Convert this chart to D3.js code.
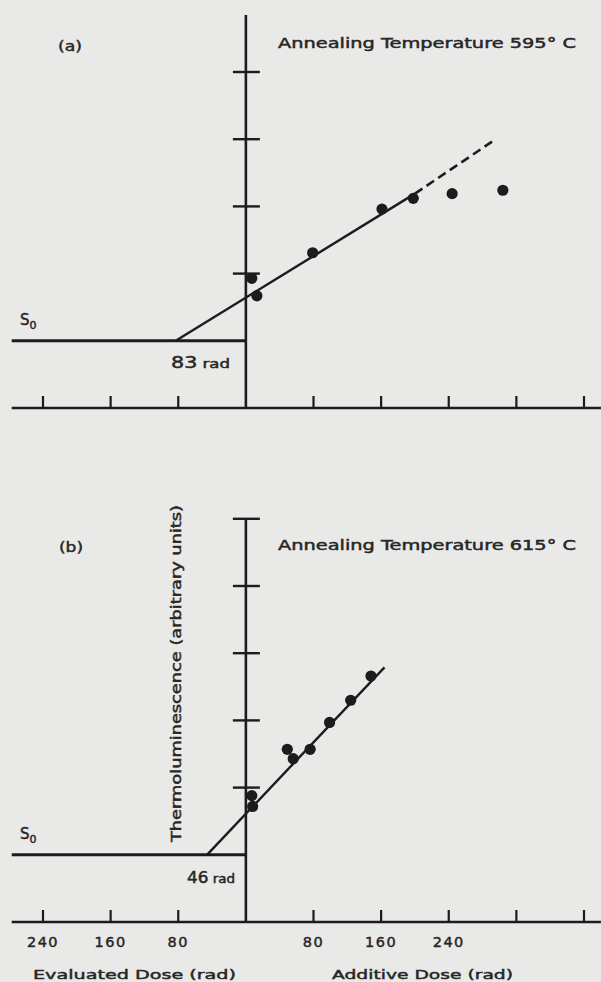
<!DOCTYPE html>
<html>
<head>
<meta charset="utf-8">
<script src="https://cdn.jsdelivr.net/npm/d3@7"></script>
<style>
  html, body { margin: 0; padding: 0; background: #e9e9e7; }
  svg { display: block; }
  text { font-family: "DejaVu Sans", "Liberation Sans", sans-serif; fill: #262626; stroke: #262626; stroke-width: 0.45px; }
</style>
</head>
<body>
<svg id="chart" width="601" height="982"></svg>
<script>
// ---------- data ----------
const xTickValues = [-240, -160, -80, 80, 160, 240, 320, 400];
const xTickLabelsLeft = [240, 160, 80];      // evaluated dose (shown to the left of 0)
const xTickLabelsRight = [80, 160, 240];     // additive dose

// Panel (a): annealing 595 °C
const aDose = [7, 13, 79, 161, 198, 244, 304];
const aTL   = [1.93, 1.67, 2.31, 2.96, 3.12, 3.19, 3.24];
const aFitSolid  = [[-83, 1], [200, 3.19]];
const aFitDashed = [[200, 3.19], [292, 3.97]];
const aS0 = 1;
const aEvaluated = 83;
const aYTicks = [2, 3, 4, 5];

// Panel (b): annealing 615 °C
const bDose = [7, 8, 49, 56, 76, 99, 124, 148];
const bTL   = [1.88, 1.72, 2.57, 2.43, 2.57, 2.97, 3.30, 3.66];
const bFit  = [[-46, 1], [164, 3.79]];
const bS0 = 1;
const bEvaluated = 46;
const bYTicks = [2, 3, 4, 5, 6];

// ---------- drawing ----------
const svg = d3.select("#chart");
const ink = "#1c1c1c";

const x = d3.scaleLinear().domain([-240, 400]).range([43, 584]);
const xMin = -277, xMax = 420;

function panel(cfg) {
  const y = d3.scaleLinear().domain([0, 6]).range([cfg.base, cfg.base - 6 * 67.2]);
  const g = svg.append("g");

  // x axis line
  g.append("line")
    .attr("x1", x(xMin)).attr("x2", x(xMax))
    .attr("y1", y(0)).attr("y2", y(0))
    .attr("stroke", ink).attr("stroke-width", 2.6);

  // x ticks (upward)
  g.selectAll(".xt").data(xTickValues).join("line")
    .attr("x1", d => x(d)).attr("x2", d => x(d))
    .attr("y1", y(0)).attr("y2", y(0) - 12)
    .attr("stroke", ink).attr("stroke-width", 2.2);

  // vertical axis
  g.append("line")
    .attr("x1", x(0)).attr("x2", x(0))
    .attr("y1", y(0)).attr("y2", y(cfg.yTop))
    .attr("stroke", ink).attr("stroke-width", 2.6);

  // y ticks (crossing)
  g.selectAll(".yt").data(cfg.yTicks).join("line")
    .attr("x1", x(0) - 13).attr("x2", x(0) + 14)
    .attr("y1", d => y(d)).attr("y2", d => y(d))
    .attr("stroke", ink).attr("stroke-width", 2.4);

  // S0 line
  g.append("line")
    .attr("x1", x(xMin)).attr("x2", x(0))
    .attr("y1", y(cfg.s0)).attr("y2", y(cfg.s0))
    .attr("stroke", ink).attr("stroke-width", 3);

  const line = d3.line().x(d => x(d[0])).y(d => y(d[1]));
  g.append("path").attr("d", line(cfg.fitSolid))
    .attr("fill", "none").attr("stroke", ink).attr("stroke-width", 2.4);
  if (cfg.fitDashed) {
    g.append("path").attr("d", line(cfg.fitDashed))
      .attr("fill", "none").attr("stroke", ink).attr("stroke-width", 2.6)
      .attr("stroke-dasharray", "9,5");
  }

  // points
  g.selectAll(".pt").data(cfg.dose.map((d, i) => [d, cfg.tl[i]])).join("circle")
    .attr("cx", d => x(d[0])).attr("cy", d => y(d[1]))
    .attr("r", 5.6).attr("fill", ink);

  // labels
  g.append("text").attr("x", cfg.tagX).attr("y", cfg.tagY)
    .attr("font-size", 14)
    .attr("textLength", 24).attr("lengthAdjust", "spacingAndGlyphs")
    .text(cfg.tag);
  g.append("text").attr("x", 278).attr("y", cfg.titleY)
    .attr("font-size", 13.5)
    .attr("textLength", 298).attr("lengthAdjust", "spacingAndGlyphs")
    .text(cfg.title);

  const s = g.append("text").attr("x", 20).attr("y", cfg.s0Y).attr("font-size", 15);
  s.append("tspan").text("S");
  s.append("tspan").attr("font-size", 11).attr("dy", 4).text("0");

  const r = g.append("text").attr("x", cfg.radX).attr("y", cfg.radY)
    .attr("textLength", cfg.radW).attr("lengthAdjust", "spacingAndGlyphs");
  r.append("tspan").attr("font-size", 15).text(cfg.evaluated);
  r.append("tspan").attr("font-size", 12).text(" rad");

  return y;
}

panel({
  base: 408, yTop: 5.85, yTicks: aYTicks, s0: aS0,
  fitSolid: aFitSolid, fitDashed: aFitDashed,
  dose: aDose, tl: aTL,
  tag: "(a)", tagX: 58, tagY: 51,
  title: "Annealing Temperature 595\u00b0 C", titleY: 48,
  s0Y: 325, evaluated: aEvaluated, radX: 171, radY: 368, radW: 59
});

panel({
  base: 922, yTop: 6.0, yTicks: bYTicks, s0: bS0,
  fitSolid: bFit, fitDashed: null,
  dose: bDose, tl: bTL,
  tag: "(b)", tagX: 59, tagY: 552,
  title: "Annealing Temperature 615\u00b0 C", titleY: 550,
  s0Y: 839, evaluated: bEvaluated, radX: 187, radY: 883, radW: 48
});

// bottom tick labels
svg.selectAll(".lbl-l").data(xTickLabelsLeft).join("text")
  .attr("x", d => x(-d)).attr("y", 947)
  .attr("text-anchor", "middle").attr("font-size", 14.5)
  .attr("letter-spacing", 1.5).text(d => d);
svg.selectAll(".lbl-r").data(xTickLabelsRight).join("text")
  .attr("x", d => x(d)).attr("y", 947)
  .attr("text-anchor", "middle").attr("font-size", 14.5)
  .attr("letter-spacing", 1.5).text(d => d);

svg.append("text").attr("x", 33).attr("y", 979).attr("font-size", 13)
  .attr("textLength", 203).attr("lengthAdjust", "spacingAndGlyphs")
  .text("Evaluated Dose (rad)");
svg.append("text").attr("x", 332).attr("y", 979).attr("font-size", 13)
  .attr("textLength", 181).attr("lengthAdjust", "spacingAndGlyphs")
  .text("Additive Dose (rad)");

// y axis label
svg.append("text")
  .attr("transform", "translate(181,842) rotate(-90)")
  .attr("font-size", 13.5)
  .attr("textLength", 337).attr("lengthAdjust", "spacingAndGlyphs")
  .text("Thermoluminescence (arbitrary units)");
</script>
</body>
</html>
